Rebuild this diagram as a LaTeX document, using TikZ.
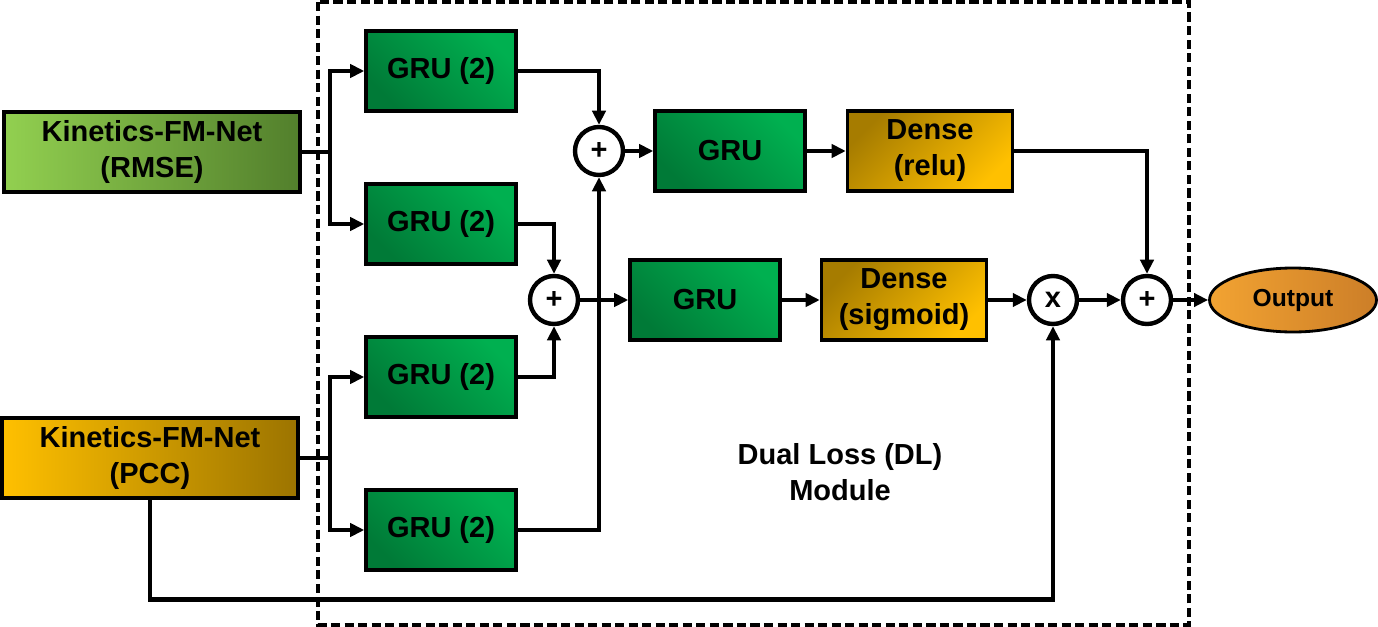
\documentclass[tikz,border=0pt]{standalone}
\usepackage{fontspec}
\setmainfont{Liberation Sans}
\usetikzlibrary{arrows.meta,shapes.geometric}
\definecolor{kgreenl}{HTML}{92D050}
\definecolor{kgreend}{HTML}{527F2C}
\definecolor{kgoldl}{HTML}{FFC000}
\definecolor{kgoldd}{HTML}{9C7400}
\definecolor{grud}{HTML}{007A37}
\definecolor{grul}{HTML}{00B050}
\definecolor{densed}{HTML}{A67C00}
\definecolor{densel}{HTML}{FFC000}
\definecolor{outl}{HTML}{F2A332}
\definecolor{outd}{HTML}{CC7E28}
\begin{document}
\begin{tikzpicture}[x=0.2mm,y=0.2mm]
\tikzstyle{every node}+=[font=\bfseries\fontsize{16.5}{20.5}\selectfont,align=center]
\tikzstyle{kfm}=[draw,line width=2pt,minimum width=5.92cm,minimum height=1.6cm,inner sep=0pt]
\tikzstyle{grubox}=[draw,line width=2pt,minimum width=3cm,minimum height=1.6cm,inner sep=0pt,bottom color=grud,top color=grul,shading angle=-45]
\tikzstyle{densebox}=[draw,line width=2pt,minimum width=3.3cm,minimum height=1.6cm,inner sep=0pt,bottom color=densel,top color=densed,shading angle=45]
\tikzstyle{opnode}=[draw,circle,line width=2.5pt,minimum size=0.96cm,inner sep=0pt,fill=white]
\tikzstyle{line}=[line width=2.8pt]
\tikzstyle{arr}=[line width=2.8pt,-{Triangle[length=8pt,width=7.5pt]}]
\useasboundingbox (0,0) rectangle (1378,-627);
\draw [line width=2pt,dash pattern=on 5.2pt off 2.5pt] (318,-2) rectangle (1189,-625);
\node [kfm,left color=kgreenl,right color=kgreend] (rmse) at (152,-152) {Kinetics-FM-Net\\(RMSE)};
\node [kfm,left color=kgoldl,right color=kgoldd] (pcc) at (150,-458) {Kinetics-FM-Net\\(PCC)};
\node [grubox] (gru1) at (441,-71) {GRU (2)};
\node [grubox] (gru2) at (441,-224) {GRU (2)};
\node [grubox] (gru3) at (441,-377) {GRU (2)};
\node [grubox] (gru4) at (441,-530) {GRU (2)};
\node [opnode] (sum1) at (599,-151) {+};
\node [opnode] (sum2) at (554,-300) {+};
\node [grubox] (grutop) at (730,-151) {GRU};
\node [grubox] (grumid) at (705,-300) {GRU};
\node [densebox] (relu) at (930,-151) {Dense\\(relu)};
\node [densebox] (sigm) at (904,-300) {Dense\\(sigmoid)};
\node [opnode] (mul) at (1053,-300) {x};
\node [opnode] (sum3) at (1147,-300) {+};
\node [draw,ellipse,line width=1.6pt,minimum width=3.34cm,minimum height=1.28cm,inner sep=0pt,left color=outl,right color=outd,font=\bfseries\fontsize{14}{16}\selectfont] (out) at (1293,-300) {Output};
\node (dl) at (840,-472) {Dual Loss (DL)\\Module};
\coordinate (jr) at (330,-152);
\coordinate (jp) at (330,-458);
\draw [line] (rmse.east) -- (jr);
\draw [arr] (jr) |- (gru1.west);
\draw [arr] (jr) |- (gru2.west);
\draw [line] (pcc.east) -- (jp);
\draw [arr] (jp) |- (gru3.west);
\draw [arr] (jp) |- (gru4.west);
\draw [arr] (gru1.east) -| (sum1.north);
\draw [arr] (gru4.east) -| (sum1.south);
\draw [arr] (gru2.east) -| (sum2.north);
\draw [arr] (gru3.east) -| (sum2.south);
\draw [arr] (sum1) -- (grutop);
\draw [arr] (sum2) -- (grumid);
\draw [arr] (grutop) -- (relu);
\draw [arr] (grumid) -- (sigm);
\draw [arr] (relu.east) -| (sum3.north);
\draw [arr] (sigm) -- (mul);
\draw [arr] (mul) -- (sum3);
\draw [arr] (sum3) -- (out);
\draw [arr] (pcc.south) -- ++(0,-100) -| (mul.south);
\end{tikzpicture}
\end{document}
